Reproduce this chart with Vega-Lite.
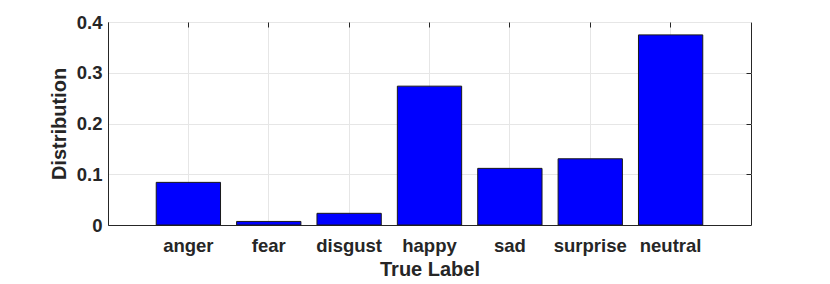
{
  "$schema": "https://vega.github.io/schema/vega-lite/v6.json",
  "autosize": "none",
  "width": 643,
  "height": 203,
  "padding": {"left": 108, "top": 22, "right": 79, "bottom": 59},
  "background": "white",
  "config": {
    "view": {"stroke": "#262626", "strokeWidth": 1},
    "font": "Liberation Sans",
    "axis": {
      "labelFont": "Liberation Sans",
      "titleFont": "Liberation Sans",
      "labelFontWeight": "bold",
      "titleFontWeight": "bold",
      "labelColor": "#262626",
      "titleColor": "#262626",
      "gridColor": "#e6e6e6",
      "gridWidth": 1,
      "domainColor": "#262626",
      "tickColor": "#262626"
    }
  },
  "data": {
    "values": [
      {"label": "anger", "value": 0.084},
      {"label": "fear", "value": 0.007},
      {"label": "disgust", "value": 0.023},
      {"label": "happy", "value": 0.2736},
      {"label": "sad", "value": 0.1116},
      {"label": "surprise", "value": 0.1305},
      {"label": "neutral", "value": 0.3746}
    ]
  },
  "encoding": {
    "x": {
      "field": "label",
      "type": "nominal",
      "sort": null,
      "scale": {"paddingInner": 0.2, "paddingOuter": 0.6}
    },
    "y": {
      "field": "value",
      "type": "quantitative",
      "scale": {"domain": [0, 0.4], "nice": false, "zero": true}
    }
  },
  "layer": [
    {
      "mark": {"type": "bar", "fill": "#0000ff", "stroke": "#1a1a1a", "strokeWidth": 1},
      "encoding": {
        "x": {
          "field": "label",
          "type": "nominal",
          "sort": null,
          "axis": {
            "orient": "bottom",
            "title": "True Label",
            "labelAngle": 0,
            "labelFontSize": 18.5,
            "titleFontSize": 20,
            "labelPadding": 11,
            "titlePadding": 5,
            "ticks": false,
            "grid": true,
            "bandPosition": 0.5,
            "domain": true
          }
        },
        "y": {
          "field": "value",
          "type": "quantitative",
          "axis": {
            "orient": "left",
            "title": "Distribution",
            "values": [0, 0.1, 0.2, 0.3, 0.4],
            "labelFontSize": 18.5,
            "titleFontSize": 20,
            "labelPadding": 6,
            "titlePadding": 7,
            "ticks": false,
            "grid": true,
            "format": "~g",
            "domain": true
          }
        }
      }
    },
    {
      "mark": {"type": "bar", "opacity": 0},
      "encoding": {
        "x": {
          "field": "label",
          "type": "nominal",
          "sort": null,
          "axis": {
            "orient": "top",
            "title": null,
            "labels": false,
            "ticks": true,
            "tickSize": 5,
            "offset": -5,
            "grid": false,
            "bandPosition": 0.5,
            "domain": false
          }
        },
        "y": {
          "field": "value",
          "type": "quantitative",
          "axis": {
            "orient": "right",
            "title": null,
            "labels": false,
            "values": [0.1, 0.2, 0.3],
            "ticks": true,
            "tickSize": 5,
            "offset": -5,
            "grid": false,
            "domain": false
          }
        }
      }
    }
  ],
  "resolve": {"axis": {"x": "independent", "y": "independent"}}
}
